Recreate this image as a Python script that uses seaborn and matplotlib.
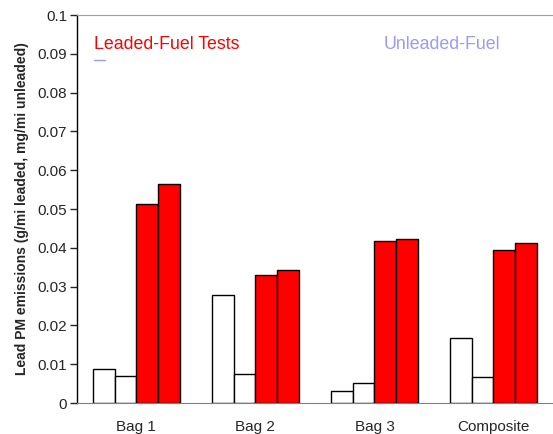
import numpy as np
import pandas as pd
import matplotlib
matplotlib.use("Agg")
import matplotlib.pyplot as plt
import seaborn as sns

# ---- data ----
categories = ["Bag 1", "Bag 2", "Bag 3", "Composite"]
series = ["Unleaded 1", "Unleaded 2", "Leaded 1", "Leaded 2"]
unleaded_1 = [0.0088, 0.0279, 0.0031, 0.0167]
unleaded_2 = [0.0070, 0.0074, 0.0051, 0.0067]
leaded_1 = [0.0514, 0.0329, 0.0418, 0.0394]
leaded_2 = [0.0564, 0.0342, 0.0424, 0.0413]
yticks = [0, 0.01, 0.02, 0.03, 0.04, 0.05, 0.06, 0.07, 0.08, 0.09, 0.1]
ytick_labels = ["0", "0.01", "0.02", "0.03", "0.04", "0.05", "0.06", "0.07", "0.08", "0.09", "0.1"]

rows = []
for name, vals in zip(series, [unleaded_1, unleaded_2, leaded_1, leaded_2]):
    for cat, v in zip(categories, vals):
        rows.append({"category": cat, "series": name, "value": v})
df = pd.DataFrame(rows)

sns.set_style("white")
plt.rcParams["font.family"] = ["Liberation Sans", "DejaVu Sans"]

fig = plt.figure(figsize=(5.53, 4.34), dpi=100)
ax = fig.add_axes([0.139, 0.0714, 0.861, 0.894])

palette = {"Unleaded 1": "white", "Unleaded 2": "white", "Leaded 1": "#ff0000", "Leaded 2": "#ff0000"}
sns.barplot(data=df, x="category", y="value", hue="series", hue_order=series,
            palette=palette, edgecolor="black", linewidth=1.0, width=0.73,
            saturation=1, legend=False, ax=ax)

ax.set_ylim(0, 0.1)
ax.set_xlim(-0.5, 3.5)
ax.set_yticks(yticks)
ax.set_yticklabels(ytick_labels, fontsize=11)
ax.set_xticks(range(len(categories)))
ax.set_xticklabels(categories, fontsize=11)
ax.set_xticks([-0.5, 0.5, 1.5, 2.5, 3.5], minor=True)
ax.tick_params(axis="x", which="major", length=0, pad=12)
ax.tick_params(axis="x", which="minor", length=5, width=1, color="black", direction="out")
ax.tick_params(axis="y", length=5, width=1, direction="out", left=True, pad=2)
ax.set_xlabel("")
ax.set_ylabel("Lead PM emissions (g/mi leaded, mg/mi unleaded)", fontsize=10,
              fontweight="bold", labelpad=6)

ax.spines["left"].set_color("black")
ax.spines["left"].set_linewidth(1.0)
ax.spines["bottom"].set_color("#808080")
ax.spines["top"].set_color("#a0a0a0")
ax.spines["right"].set_visible(False)

ax.text(0.035, 0.925, "Leaded-Fuel Tests", transform=ax.transAxes, color="#ff0000",
        fontsize=12.8, va="center", ha="left")
ax.text(0.645, 0.925, "Unleaded-Fuel", transform=ax.transAxes, color="#9999ff",
        fontsize=12.8, va="center", ha="left")
ax.plot([0.035, 0.06], [0.884, 0.884], transform=ax.transAxes, color="#9999ff", linewidth=1)

fig.savefig("out.png", dpi=100)
